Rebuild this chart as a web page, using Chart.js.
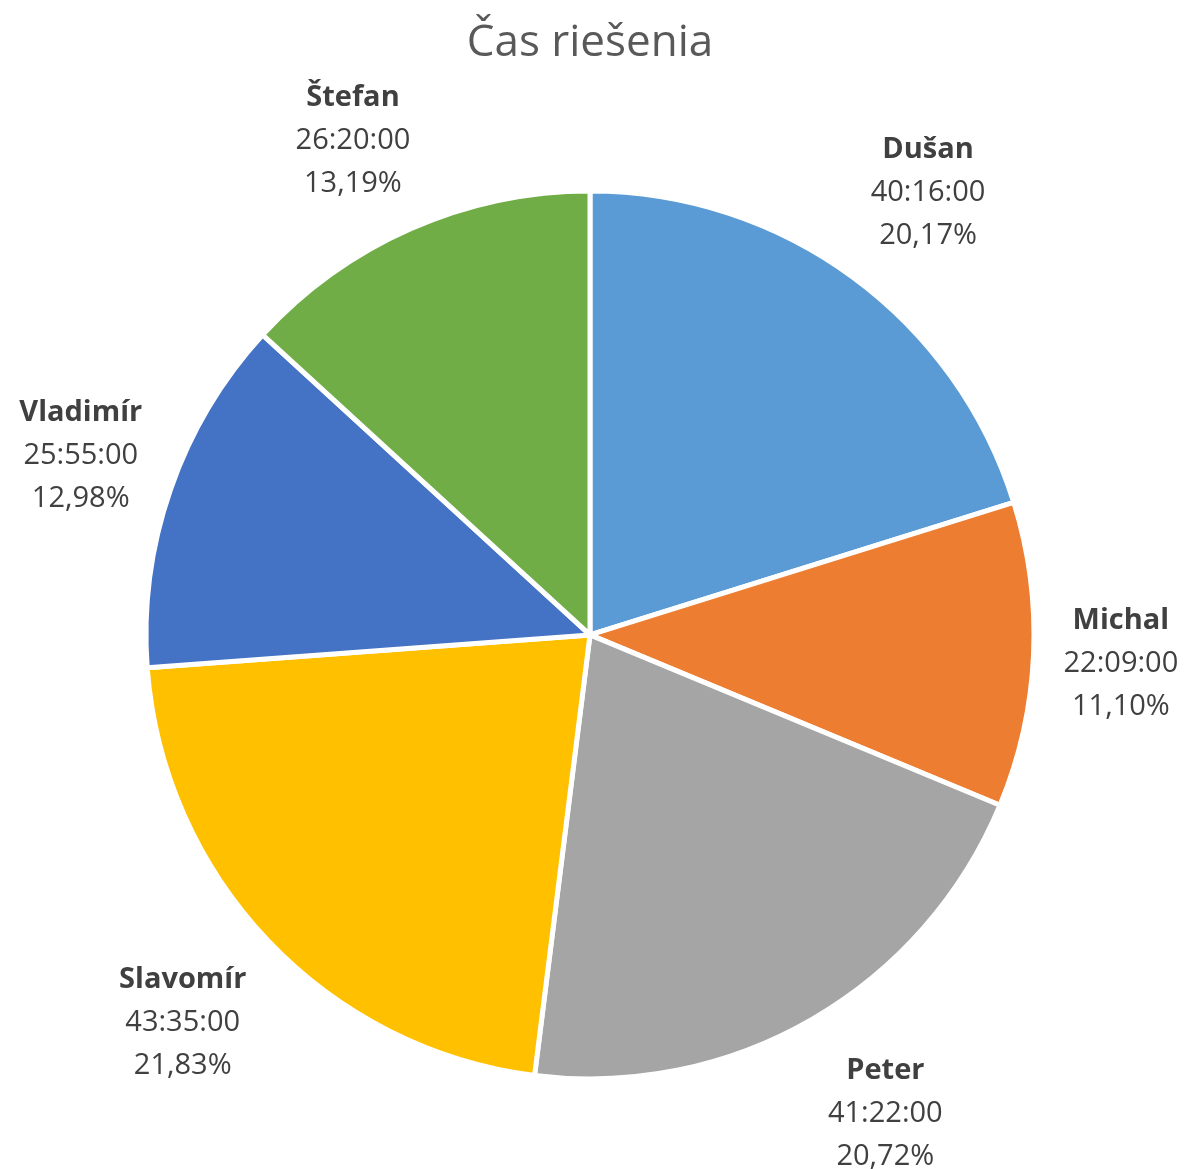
<!DOCTYPE html>
<html>
<head>
<meta charset="utf-8">
<title>Čas riešenia</title>
<script src="https://cdn.jsdelivr.net/npm/chart.js@4"></script>
<style>
    html, body { margin: 0; padding: 0; background: #ffffff; }
    #wrap { width: 1199px; height: 1169px; }
</style>
</head>
<body>
<div id="wrap"><canvas id="pieChart" width="1199" height="1169"></canvas></div>
<script>
const names = ['Dušan', 'Michal', 'Peter', 'Slavomír', 'Vladimír', 'Štefan'];
const times = ['40:16:00', '22:09:00', '41:22:00', '43:35:00', '25:55:00', '26:20:00'];
const minutes = [2416, 1329, 2482, 2615, 1555, 1580];
const colors = ['#5B9BD5', '#ED7D31', '#A5A5A5', '#FFC000', '#4472C4', '#70AD47'];

const labelFont = '"Open Sans", "Noto Sans", sans-serif';
const labelSize = 29;

function clamp1(v) {
    return Math.max(-1, Math.min(1, v));
}

// draws the name / time / percent blocks outside each slice
const outsideLabels = {
    id: 'outsideLabels',
    afterDatasetsDraw(chart) {
        const ctx = chart.ctx;
        const meta = chart.getDatasetMeta(0);
        const total = minutes.reduce((a, b) => a + b, 0);
        const lineH = 43;
        ctx.save();
        ctx.textAlign = 'center';
        ctx.textBaseline = 'middle';
        ctx.fillStyle = '#404040';
        meta.data.forEach((arc, i) => {
            const p = arc.getProps(['x', 'y', 'startAngle', 'endAngle', 'outerRadius'], true);
            const mid = (p.startAngle + p.endAngle) / 2;
            const dx = Math.cos(mid), dy = Math.sin(mid);
            const pct = (minutes[i] / total * 100).toFixed(2).replace('.', ',') + '%';
            const lines = [names[i], times[i], pct];
            let w = 0;
            lines.forEach((t, k) => {
                ctx.font = (k === 0 ? 'bold ' : '') + labelSize + 'px ' + labelFont;
                w = Math.max(w, ctx.measureText(t).width);
            });
            const h = lineH * 3;
            const r = p.outerRadius + 30;
            const cx = p.x + dx * r + clamp1(dx * 2) * w / 2;
            const cy = p.y + dy * r + clamp1(dy * 1.3) * h / 2 + 4;
            lines.forEach((t, k) => {
                ctx.font = (k === 0 ? 'bold ' : '') + labelSize + 'px ' + labelFont;
                ctx.fillText(t, cx, cy + (k - 1) * lineH);
            });
        });
        ctx.restore();
    }
};

new Chart(document.getElementById('pieChart'), {
    type: 'pie',
    data: {
        labels: names,
        datasets: [{
            data: minutes,
            backgroundColor: colors,
            borderColor: '#ffffff',
            borderWidth: 5,
            radius: 444
        }]
    },
    options: {
        responsive: false,
        animation: false,
        layout: { padding: { left: 0, right: 19, top: 0, bottom: 0 } },
        plugins: {
            legend: { display: false },
            tooltip: { enabled: false },
            title: {
                display: true,
                text: 'Čas riešenia',
                color: '#595959',
                font: { family: labelFont, size: 44, weight: 'normal', lineHeight: 1.2 },
                padding: { top: 17, bottom: 31 }
            }
        }
    },
    plugins: [outsideLabels]
});
</script>
</body>
</html>
